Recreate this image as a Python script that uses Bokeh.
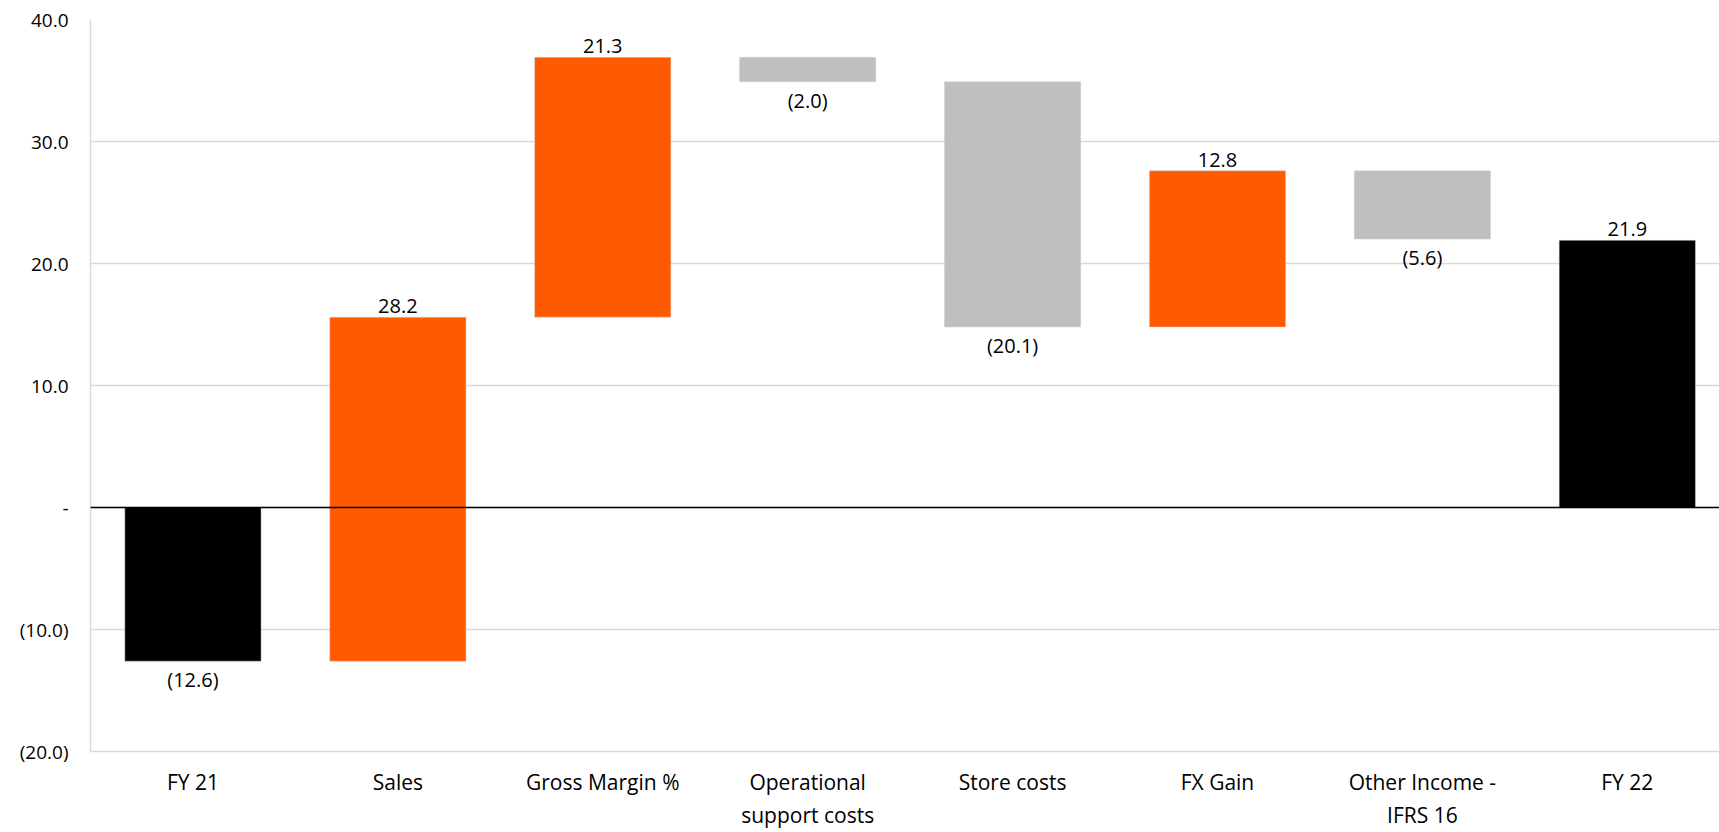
from bokeh.plotting import figure
from bokeh.models import ColumnDataSource, FixedTicker, Range1d, Span
from bokeh.embed import file_html
from bokeh.resources import INLINE
from bokeh.core.properties import value

categories = ["FY 21", "Sales", "Gross Margin %", "Operational\nsupport costs",
              "Store costs", "FX Gain", "Other Income -\nIFRS 16", "FY 22"]
changes = [-12.6, 28.2, 21.3, -2.0, -20.1, 12.8, -5.6, 21.9]
kinds = ["total", "step", "step", "step", "step", "step", "step", "total"]
y_ticks = [-20, -10, 0, 10, 20, 30, 40]
y_tick_labels = ["(20.0)", "(10.0)", "-", "10.0", "20.0", "30.0", "40.0"]

ORANGE = "#FF5A00"
GREY = "#BFBFBF"
BLACK = "#000000"
FONT = "Open Sans"

xs, bottoms, tops, colors, labels, label_y = [], [], [], [], [], []
running = 0.0
for i, (c, k) in enumerate(zip(changes, kinds)):
    if k == "total":
        b, t = 0.0, c
        running = c
        col = BLACK
    else:
        b, t = running, running + c
        running = running + c
        col = ORANGE if c > 0 else GREY
    xs.append(i)
    bottoms.append(min(b, t))
    tops.append(max(b, t))
    colors.append(col)
    labels.append(f"{c:.1f}" if c >= 0 else f"({abs(c):.1f})")
    label_y.append(max(b, t) if c >= 0 else min(b, t))

src = ColumnDataSource(dict(x=xs, bottom=bottoms, top=tops, color=colors))

p = figure(width=1719, height=832, output_backend="svg", toolbar_location=None,
           x_range=Range1d(-0.5, 7.45), y_range=Range1d(-20, 40),
           min_border_left=90, min_border_right=0, min_border_top=19,
           min_border_bottom=81)
p.outline_line_color = None
p.background_fill_color = "white"
p.border_fill_color = "white"

p.vbar(x="x", bottom="bottom", top="top", width=0.665, fill_color="color",
       line_color="#D0D0D0", line_width=0.5, source=src)

pos = ColumnDataSource(dict(
    x=[x for x, c in zip(xs, changes) if c >= 0],
    ly=[y for y, c in zip(label_y, changes) if c >= 0],
    label=[l for l, c in zip(labels, changes) if c >= 0]))
neg = ColumnDataSource(dict(
    x=[x for x, c in zip(xs, changes) if c < 0],
    ly=[y for y, c in zip(label_y, changes) if c < 0],
    label=[l for l, c in zip(labels, changes) if c < 0]))

p.text(x="x", y="ly", text="label", text_align="center", text_baseline="bottom",
       y_offset=-4, text_font=value(FONT), text_font_size="20px",
       text_color="#000000", source=pos)
p.text(x="x", y="ly", text="label", text_align="center", text_baseline="top",
       y_offset=5, text_font=value(FONT), text_font_size="20px",
       text_color="#000000", source=neg)

p.add_layout(Span(location=0, dimension="width", line_color="black", line_width=1.5))

p.xaxis.ticker = FixedTicker(ticks=list(range(len(categories))))
p.xaxis.major_label_overrides = {i: c for i, c in enumerate(categories)}
p.yaxis.ticker = FixedTicker(ticks=y_ticks)
p.yaxis.major_label_overrides = {t: l for t, l in zip(y_ticks, y_tick_labels)}

for ax in (p.xaxis, p.yaxis):
    ax.major_tick_line_color = None
    ax.minor_tick_line_color = None
    ax.axis_line_color = "#D9D9D9"
    ax.axis_line_width = 1.5
    ax.major_label_text_font = FONT
    ax.major_label_text_color = "#000000"
p.xaxis.major_label_text_font_size = "21px"
p.yaxis.major_label_text_font_size = "19px"
p.xaxis.major_label_standoff = 10
p.yaxis.major_label_standoff = 16

p.xgrid.grid_line_color = None
p.ygrid.grid_line_color = "#D9D9D9"
p.ygrid.grid_line_width = 1.5

open("out.html", "w").write(file_html(p, INLINE))
